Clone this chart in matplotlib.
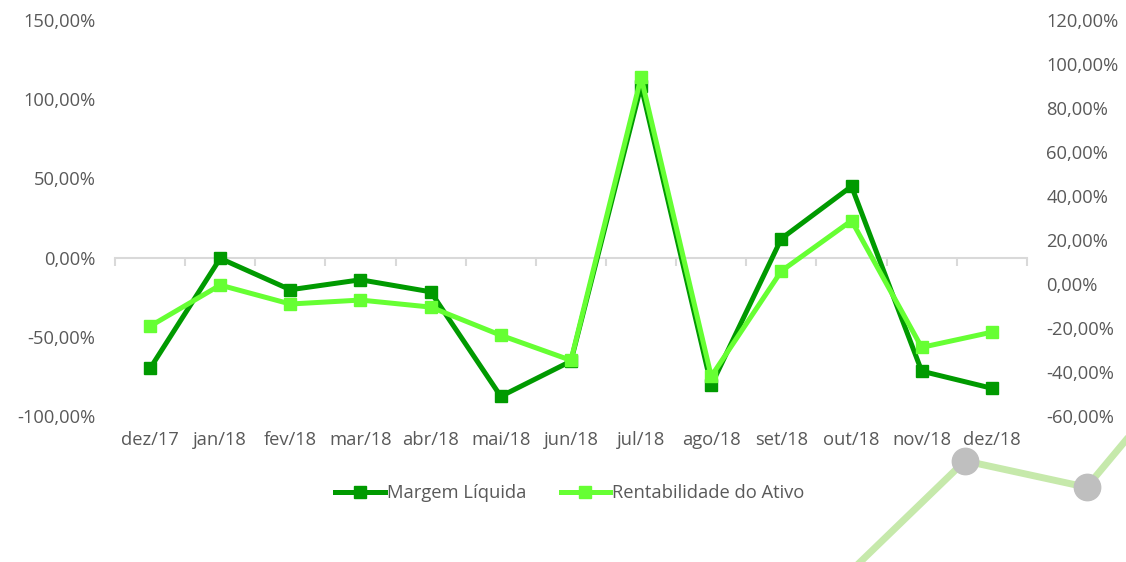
import matplotlib
matplotlib.use("Agg")
import matplotlib.pyplot as plt
from matplotlib.ticker import FuncFormatter, FixedLocator, NullFormatter
import numpy as np

# Data (percent)
months = ["dez/17", "jan/18", "fev/18", "mar/18", "abr/18", "mai/18", "jun/18",
          "jul/18", "ago/18", "set/18", "out/18", "nov/18", "dez/18"]
margem_liquida = [-70.0, -0.5, -20.3, -14.0, -21.6, -87.6, -65.4,
                  108.5, -80.6, 12.0, 45.0, -71.7, -82.5]
rent_ativo = [-19.2, -0.5, -9.1, -7.3, -10.5, -23.3, -34.7,
              94.0, -42.0, 5.9, 28.8, -28.8, -21.9]

# slide decoration in the lower right corner (figure fraction)
deco_x = [0.764, 0.857, 0.965, 1.0]
deco_y = [0.0, 0.180, 0.133, 0.217]
deco_dots = [1, 2]

dark = "#009a00"
light = "#66ff33"
grey = "#595959"
font = "Open Sans"
fs = 13.2

fig = plt.figure(figsize=(11.26, 5.62), dpi=100)

# decoration behind everything
fig.add_artist(plt.Line2D(deco_x, deco_y, transform=fig.transFigure,
                          color="#c6e9ab", lw=5, zorder=0))
for i in deco_dots:
    fig.add_artist(plt.Line2D([deco_x[i]], [deco_y[i]], transform=fig.transFigure,
                              marker="o", ms=19, color="#bfbfbf", lw=0, zorder=1))

ax1 = fig.add_axes([0.1021, 0.2598, 0.8099, 0.7046])
ax1.patch.set_alpha(0)
ax2 = ax1.twinx()

x = np.arange(len(months))
ax1.plot(x, margem_liquida, color=dark, lw=3.6, marker="s", ms=9,
         label="Margem Líquida", zorder=3)
ax2.plot(x, rent_ativo, color=light, lw=3.6, marker="s", ms=9,
         label="Rentabilidade do Ativo", zorder=4)

ax1.set_xlim(-0.5, len(months) - 0.5)
ax1.set_ylim(-100, 150)
ax2.set_ylim(-60, 120)
ax1.set_yticks(np.arange(-100, 151, 50))
ax2.set_yticks(np.arange(-60, 121, 20))

pct = FuncFormatter(lambda v, p: f"{v:.2f}%".replace(".", ","))
ax1.yaxis.set_major_formatter(pct)
ax2.yaxis.set_major_formatter(pct)

for ax in (ax1, ax2):
    for s in ax.spines.values():
        s.set_visible(False)
    ax.tick_params(axis="y", length=0, pad=14, labelsize=fs, labelcolor=grey)
    for lab in ax.get_yticklabels():
        lab.set_fontfamily(font)

ax1.set_xticks(x)
ax1.set_xticklabels(months, fontsize=fs, color=grey, fontfamily=font)
ax1.tick_params(axis="x", length=0, pad=11)

# category axis crossing at 0 on the left scale
zero_frac = (0 - (-100)) / 250
sec = ax1.secondary_xaxis(zero_frac)
sec.spines["bottom"].set_color("#d9d9d9")
sec.spines["bottom"].set_linewidth(1.5)
sec.xaxis.set_major_locator(FixedLocator(np.arange(-0.5, len(months), 1.0)))
sec.xaxis.set_major_formatter(NullFormatter())
sec.tick_params(axis="x", direction="out", length=6, width=1.5, color="#d9d9d9")

h1, l1 = ax1.get_legend_handles_labels()
h2, l2 = ax2.get_legend_handles_labels()
leg = fig.legend(h1 + h2, l1 + l2, loc="center", bbox_to_anchor=(0.506, 0.122),
                 ncol=2, frameon=False, handlelength=2.7,
                 handletextpad=0.1, columnspacing=1.9,
                 prop={"family": font, "size": fs})
for t in leg.get_texts():
    t.set_color(grey)

fig.savefig("out.png", dpi=100)
